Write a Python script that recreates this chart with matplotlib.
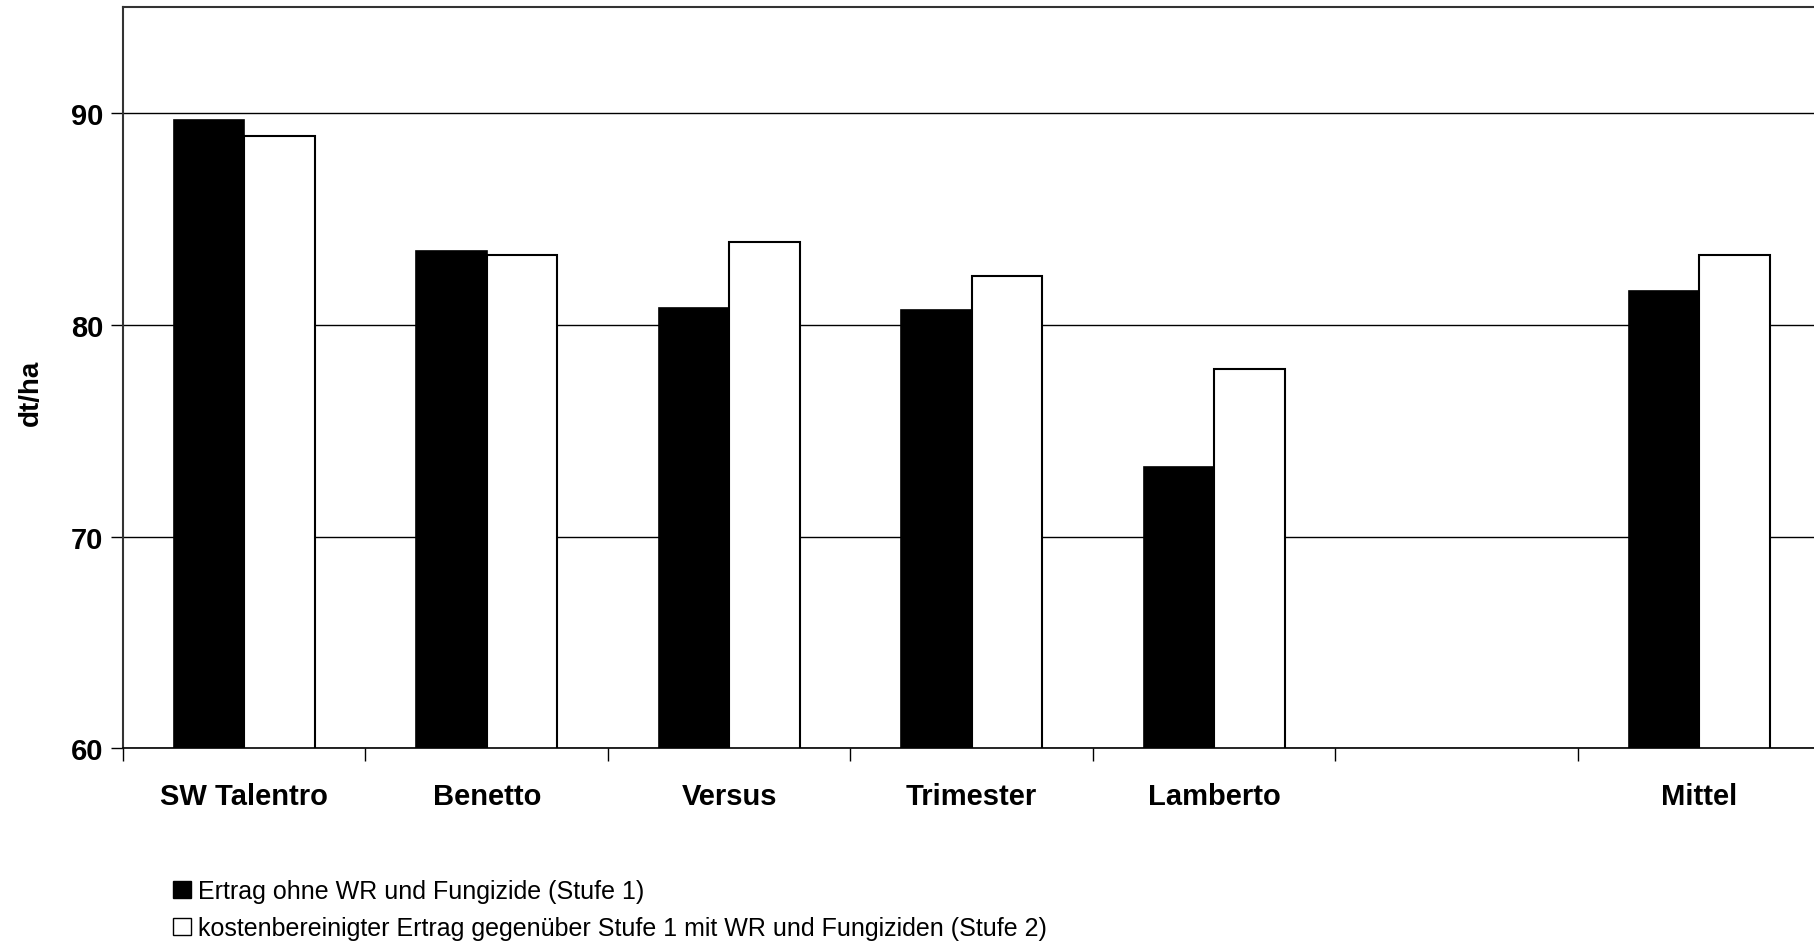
import numpy as np
import matplotlib.pyplot as plt
from matplotlib.patches import Patch

plt.rcParams['font.family'] = ['Liberation Sans', 'DejaVu Sans']

# Daten aus dem Diagramm (dt/ha)
sorten = ['SW Talentro', 'Benetto', 'Versus', 'Trimester', 'Lamberto', '', 'Mittel']
stufe1 = [89.7, 83.5, 80.8, 80.7, 73.3, np.nan, 81.6]
stufe2 = [88.9, 83.3, 83.9, 82.3, 77.9, np.nan, 83.3]
legende = ['Ertrag ohne WR und Fungizide (Stufe 1)',
           'kostenbereinigter Ertrag gegenüber Stufe 1 mit WR und Fungiziden (Stufe 2)']

fig = plt.figure(figsize=(18.14, 9.45), dpi=100)
ax = fig.add_axes([123 / 1814, 1 - 749.3 / 945, 1697.5 / 1814, 741 / 945])

x = np.arange(len(sorten))
w = 0.29
ax.bar(x - w / 2, stufe1, w, color='black', edgecolor='black', linewidth=1.2, zorder=2)
ax.bar(x + w / 2, stufe2, w, color='white', edgecolor='black', linewidth=1.5, zorder=2)

ax.set_ylim(60, 95)
ax.set_xlim(-0.5, len(sorten) - 0.5)

ax.set_yticks([60, 70, 80, 90])
ax.yaxis.grid(True, color='black', linewidth=1)
ax.set_axisbelow(True)
ax.tick_params(axis='y', length=9, width=1, pad=5, labelsize=21)
for t in ax.get_yticklabels():
    t.set_fontweight('bold')

# Trennstriche zwischen den Sorten, Beschriftung in der Mitte
ax.set_xticks(np.arange(-0.5, len(sorten), 1))
ax.set_xticklabels([])
ax.tick_params(axis='x', which='major', length=9, width=1)
ax.set_xticks(x, sorten, minor=True)
ax.tick_params(axis='x', which='minor', length=0, pad=24, labelsize=21)
for t in ax.get_xticklabels(minor=True):
    t.set_fontweight('bold')

fig.text(31 / 1814, 1 - 393 / 945, 'dt/ha', rotation=90, ha='center', va='center',
         fontsize=20, fontweight='bold')

for s in ['left', 'top']:
    ax.spines[s].set_color('#333333')
    ax.spines[s].set_linewidth(1.5)
ax.spines['bottom'].set_linewidth(1.2)
ax.spines['right'].set_visible(False)

handles = [Patch(facecolor='black', edgecolor='black'),
           Patch(facecolor='white', edgecolor='black', linewidth=1)]
fig.legend(handles, legende, loc='upper left', bbox_to_anchor=(163 / 1814, 1 - 870 / 945),
           frameon=False, fontsize=18, handlelength=0.7, handleheight=0.7,
           handletextpad=0.3, labelspacing=0.52, borderaxespad=0)

fig.savefig('out.png', dpi=100)
